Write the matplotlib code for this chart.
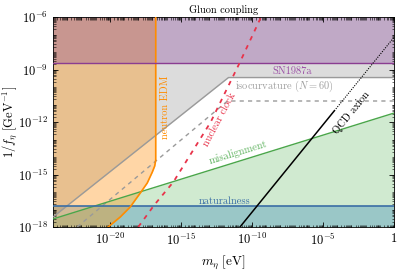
import numpy as np
import matplotlib
matplotlib.use("Agg")
import matplotlib.pyplot as plt
from matplotlib.ticker import LogLocator, FixedLocator, FixedFormatter, NullFormatter

plt.rcParams['font.family'] = ['cmr10', 'DejaVu Serif']
plt.rcParams['mathtext.fontset'] = 'cm'
plt.rcParams['axes.unicode_minus'] = False
plt.rcParams['axes.formatter.use_mathtext'] = True

# ---- data (log10 values) ----
x_min_exp, x_max_exp = -24, 0
y_min_exp, y_max_exp = -18, -6

sn1987a_exp = -8.63                      # purple bound
naturalness_exp = -16.8                  # blue line

iso_solid_x = [-24.0, -11.65, 0.0]
iso_solid_y = [-17.43, -9.46, -9.46]
iso_dash_x = [-22.3, -11.72, 0.0]
iso_dash_y = [-18.0, -10.8, -10.8]

misalign_x = [-24.0, 0.0]
misalign_y = [-17.54, -11.49]

edm_y = [-6.0, -14.17, -14.51, -14.86, -15.49, -16.06, -16.86, -17.43, -18.0]
edm_x = [-16.77, -16.77, -16.84, -17.01, -17.37, -17.86, -18.57, -19.27, -20.12]

clock_x = [-18.0, -16.87, -15.53, -12.9, -10.87, -9.39]
clock_y = [-18.0, -16.74, -15.43, -12.0, -8.63, -6.06]

qcd_solid_x = [-10.84, -4.2]
qcd_solid_y = [-18.0, -11.36]
qcd_dot_x = [-4.2, 0.0]
qcd_dot_y = [-11.36, -7.16]

x_tick_exps = [-20, -15, -10, -5, 0]
x_tick_labels = [r'$10^{-20}$', r'$10^{-15}$', r'$10^{-10}$', r'$10^{-5}$', r'$1$']
y_tick_exps = [-18, -15, -12, -9, -6]
y_tick_labels = [r'$10^{-18}$', r'$10^{-15}$', r'$10^{-12}$', r'$10^{-9}$', r'$10^{-6}$']

p = lambda v: 10.0 ** np.asarray(v, dtype=float)

fig = plt.figure(figsize=(3.99, 2.72), dpi=100)
ax = fig.add_axes([53/399, 45/272, 341/399, 210/272])
ax.set_xscale('log')
ax.set_yscale('log')
xlo, xhi = p(x_min_exp), p(x_max_exp)
ylo, yhi = p(y_min_exp), p(y_max_exp)
ax.set_xlim(xlo, xhi)
ax.set_ylim(ylo, yhi)

# gray isocurvature region
ax.fill_between(p(iso_solid_x), p(iso_solid_y), yhi, color=(0.5, 0.5, 0.5), alpha=0.27, lw=0, zorder=1)
# green misalignment
ax.fill_between(p(misalign_x), ylo, p(misalign_y), color=(44/255, 160/255, 44/255), alpha=0.22, lw=0, zorder=1.1)
# blue naturalness
ax.fill_between([xlo, xhi], ylo, p(naturalness_exp), color='#1f77b4', alpha=0.3, lw=0, zorder=1.2)
# orange neutron EDM
ax.fill_betweenx(p(edm_y), xlo, p(edm_x), color='darkorange', alpha=0.35, lw=0, zorder=1.3)
# purple SN1987a
ax.fill_between([xlo, xhi], p(sn1987a_exp), yhi, color='#803694', alpha=0.3, lw=0, zorder=1.4)

# lines
ax.plot(p(iso_solid_x), p(iso_solid_y), color='#9a9a9a', lw=1.0, zorder=3)
ax.plot(p(iso_dash_x), p(iso_dash_y), color='#9a9a9a', lw=1.0, ls=(0, (3, 3)), zorder=3)
ax.plot(p(misalign_x), p(misalign_y), color='#4aa64a', lw=1.0, zorder=3)
ax.axhline(p(naturalness_exp), color='#3a6ea5', lw=1.2, zorder=3)
ax.plot(p(edm_x), p(edm_y), color='darkorange', lw=1.2, zorder=3)
ax.axhline(p(sn1987a_exp), color='#8a3d91', lw=1.0, zorder=3)
ax.plot(p(clock_x), p(clock_y), color='#e8334a', lw=1.3, ls=(0, (2.5, 3)), zorder=3)
ax.plot(p(qcd_solid_x), p(qcd_solid_y), color='black', lw=1.1, zorder=3)
ax.plot(p(qcd_dot_x), p(qcd_dot_y), color='black', lw=0.8, ls=(0, (1, 1.2)), zorder=3)

# labels
fs = 7.5
ax.text(p(-7.2), p(-9.09), 'SN1987a', color='#9b4fa6', fontsize=fs, ha='center', va='center', zorder=5)
ax.text(p(-7.7), p(-9.94), r'isocurvature ($N=60$)', color='#a0a0a0', fontsize=fs, ha='center', va='center', zorder=5)
ax.text(p(-16.12), p(-11.14), 'neutron EDM', color='darkorange', fontsize=fs, ha='center', va='center', rotation=90, zorder=5)
ax.text(p(-12.3), p(-11.85), 'nuclear clock', color='#e8334a', fontsize=fs, ha='center', va='center', rotation=62, zorder=5)
ax.text(p(-3.0), p(-11.45), 'QCD axion', color='black', fontsize=fs, ha='center', va='center', rotation=51, zorder=5)
ax.text(p(-10.94), p(-13.72), 'misalignment', color='#5fb35f', fontsize=fs, ha='center', va='center', rotation=17, zorder=5)
ax.text(p(-11.93), p(-16.5), 'naturalness', color='#3a6ea5', fontsize=fs, ha='center', va='center', zorder=5)

ax.set_title('Gluon coupling', fontsize=7.5, pad=3)

# ticks
ax.xaxis.set_major_locator(FixedLocator(p(x_tick_exps)))
ax.xaxis.set_major_formatter(FixedFormatter(x_tick_labels))
ax.yaxis.set_major_locator(FixedLocator(p(y_tick_exps)))
ax.yaxis.set_major_formatter(FixedFormatter(y_tick_labels))
for axis in (ax.xaxis, ax.yaxis):
    axis.set_minor_locator(LogLocator(base=10, subs=np.arange(1, 10), numticks=400))
    axis.set_minor_formatter(NullFormatter())
ax.tick_params(which='both', direction='in', top=True, right=True, labelsize=9)
ax.tick_params(which='major', length=3.5, width=0.6)
ax.tick_params(which='minor', length=1.8, width=0.4)
for s in ax.spines.values():
    s.set_linewidth(0.6)

ax.set_xlabel(r'$m_\eta\ [\mathrm{eV}]$', fontsize=9.5)
ax.set_ylabel(r'$1/f_\eta\ [\mathrm{GeV}^{-1}]$', fontsize=9)
ax.xaxis.set_label_coords(0.5, -0.125)
ax.yaxis.set_label_coords(-0.1, 0.5)

fig.savefig('out.png', dpi=100)
